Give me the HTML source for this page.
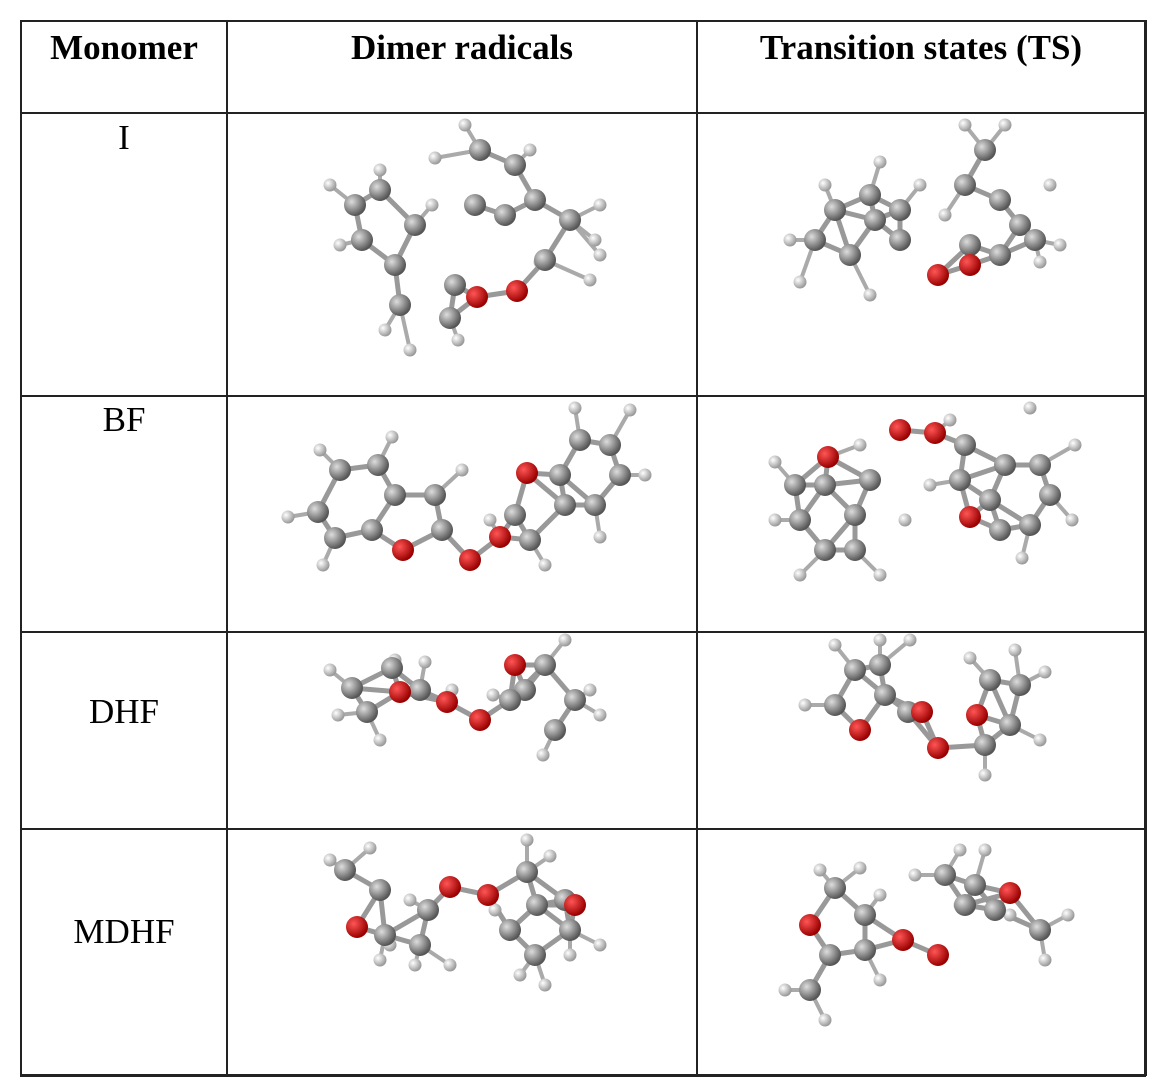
<!DOCTYPE html>
<html><head><meta charset="utf-8"><style>
body{margin:0;background:#fff;width:1166px;height:1084px;overflow:hidden;font-family:"Liberation Serif",serif}
.l{position:absolute;background:#222}
.t{position:absolute;text-align:center;color:#000;font-size:35px}
.b{font-weight:bold;font-size:35px}
svg{position:absolute;left:0;top:0}
</style></head><body>
<div class="l" style="left:20px;top:20px;width:1126px;height:2px"></div>
<div class="l" style="left:20px;top:112px;width:1126px;height:2px"></div>
<div class="l" style="left:20px;top:395px;width:1126px;height:2px"></div>
<div class="l" style="left:20px;top:631px;width:1126px;height:2px"></div>
<div class="l" style="left:20px;top:828px;width:1126px;height:2px"></div>
<div class="l" style="left:20px;top:1074px;width:1126px;height:3px"></div>
<div class="l" style="left:20px;top:20px;width:2px;height:1056px"></div>
<div class="l" style="left:226px;top:20px;width:2px;height:1056px"></div>
<div class="l" style="left:696px;top:20px;width:2px;height:1056px"></div>
<div class="l" style="left:1144px;top:20px;width:3px;height:1056px"></div>
<div class="t b" style="left:22px;width:204px;top:28px">Monomer</div>
<div class="t b" style="left:228px;width:468px;top:28px">Dimer radicals</div>
<div class="t b" style="left:698px;width:446px;top:28px">Transition states (TS)</div>
<div class="t" style="left:22px;width:204px;top:118px">I</div>
<div class="t" style="left:22px;width:204px;top:400px">BF</div>
<div class="t" style="left:22px;width:204px;top:692px">DHF</div>
<div class="t" style="left:22px;width:204px;top:912px">MDHF</div>
<svg id="s" width="1166" height="1084">
<defs>
<radialGradient id="gc" cx="35%" cy="35%" r="65%"><stop offset="0" stop-color="#ddd"/><stop offset="1" stop-color="#555"/></radialGradient>
<radialGradient id="gh" cx="35%" cy="35%" r="65%"><stop offset="0" stop-color="#fff"/><stop offset="1" stop-color="#999"/></radialGradient>
<radialGradient id="go" cx="35%" cy="35%" r="65%"><stop offset="0" stop-color="#f55"/><stop offset="1" stop-color="#900"/></radialGradient>
</defs>
</svg>
<script>
var P=[
{C:[[355,205],[380,190],[362,240],[395,265],[400,305],[455,285],[450,318],[480,150],[515,165],[475,205],[535,200],[570,220],[545,260],[415,225],[505,215]],
O:[[477,297],[517,291]],
H:[[330,185],[380,170],[432,205],[340,245],[385,330],[410,350],[458,340],[465,125],[435,158],[530,150],[600,205],[595,240],[600,255],[590,280],[540,262]]},
{C:[[835,210],[870,195],[815,240],[850,255],[875,220],[900,210],[900,240],[985,150],[965,185],[1000,200],[1020,225],[1000,255],[970,245],[1035,240]],
O:[[938,275],[970,265]],
H:[[825,185],[880,162],[790,240],[800,282],[870,295],[920,185],[965,125],[1005,125],[1050,185],[1060,245],[1040,262],[945,215]]},
{C:[[340,470],[378,465],[395,495],[372,530],[335,538],[318,512],[435,495],[442,530],[515,515],[530,540],[560,475],[580,440],[610,445],[620,475],[595,505],[565,505]],
O:[[403,550],[470,560],[500,537],[527,473]],
H:[[320,450],[392,437],[462,470],[288,517],[323,565],[490,520],[545,565],[575,408],[630,410],[645,475],[600,537]]},
{C:[[795,485],[825,485],[800,520],[825,550],[855,550],[855,515],[870,480],[965,445],[960,480],[990,500],[1005,465],[1040,465],[1050,495],[1030,525],[1000,530]],
O:[[828,457],[900,430],[935,433],[970,517]],
H:[[775,462],[775,520],[800,575],[880,575],[905,520],[950,420],[1030,408],[1075,445],[1072,520],[1022,558],[930,485],[860,445]]},
{C:[[352,688],[367,712],[392,668],[420,690],[525,690],[545,665],[575,700],[555,730],[510,700]],
O:[[400,692],[447,702],[480,720],[515,665]],
H:[[330,670],[395,660],[425,662],[338,715],[380,740],[452,690],[565,640],[590,690],[600,715],[543,755],[493,695]]},
{C:[[855,670],[880,665],[885,695],[835,705],[908,712],[990,680],[1020,685],[1010,725],[985,745]],
O:[[860,730],[922,712],[938,748],[977,715]],
H:[[835,645],[880,640],[910,640],[805,705],[970,658],[1045,672],[1015,650],[1040,740],[985,775]]},
{C:[[345,870],[380,890],[385,935],[420,945],[428,910],[527,872],[537,905],[510,930],[535,955],[570,930],[565,900]],
O:[[357,927],[450,887],[488,895],[575,905]],
H:[[330,860],[370,848],[390,945],[410,900],[450,965],[380,960],[415,965],[527,840],[550,856],[495,910],[520,975],[545,985],[600,945],[570,955]]},
{C:[[835,888],[865,915],[865,950],[830,955],[810,990],[945,875],[975,885],[965,905],[1040,930],[995,910]],
O:[[810,925],[903,940],[938,955],[1010,893]],
H:[[820,870],[860,868],[880,895],[880,980],[785,990],[825,1020],[915,875],[960,850],[985,850],[960,905],[1068,915],[1045,960],[1010,915]]}
];
var s=document.getElementById('s'),out='';
P.forEach(function(p){
 var heavy=p.C.concat(p.O);
 for(var i=0;i<heavy.length;i++)for(var j=i+1;j<heavy.length;j++){
  var a=heavy[i],b=heavy[j],d=Math.hypot(a[0]-b[0],a[1]-b[1]);
  if(d<50)out+='<line x1="'+a[0]+'" y1="'+a[1]+'" x2="'+b[0]+'" y2="'+b[1]+'" stroke="#999" stroke-width="5"/>';
 }
 p.H.forEach(function(h){
  var best=null,bd=1e9;heavy.forEach(function(c){var d=Math.hypot(c[0]-h[0],c[1]-h[1]);if(d<bd){bd=d;best=c;}});
  if(best&&bd<50)out+='<line x1="'+h[0]+'" y1="'+h[1]+'" x2="'+best[0]+'" y2="'+best[1]+'" stroke="#aaa" stroke-width="4"/>';
 });
 p.H.forEach(function(h){out+='<circle cx="'+h[0]+'" cy="'+h[1]+'" r="6.5" fill="url(#gh)"/>';});
 p.C.forEach(function(c){out+='<circle cx="'+c[0]+'" cy="'+c[1]+'" r="11" fill="url(#gc)"/>';});
 p.O.forEach(function(c){out+='<circle cx="'+c[0]+'" cy="'+c[1]+'" r="11" fill="url(#go)"/>';});
});
s.insertAdjacentHTML('beforeend',out);
</script>
</body></html>
